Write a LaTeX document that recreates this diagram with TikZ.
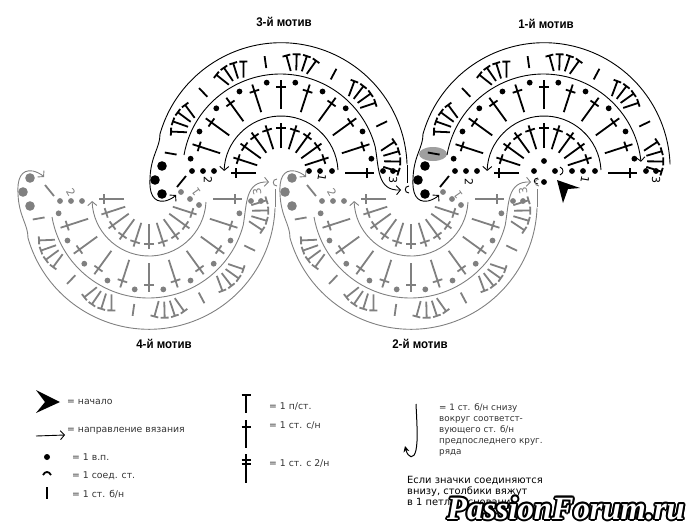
\documentclass[tikz,border=0pt]{standalone}
\usepackage{fontspec}
\setmainfont{DejaVu Sans}
\newfontfamily\titlefont[FakeStretch=0.92]{Liberation Sans Bold}
\newfontfamily\markfont{Liberation Serif Bold Italic}
\usepackage{tikz}
\usetikzlibrary{arrows.meta}
\definecolor{motifgray}{gray}{0.5}
\definecolor{legendgray}{gray}{0.2}
\tikzset{
	thread/.style={line width=.9pt},
	stitch/.style={line width=1.8pt},
	way/.style={thread,-{Straight Barb[length=4pt,width=9pt]}},
	title/.style={font=\titlefont\fontsize{12.5}{12.5}\selectfont,text=black},
	legend/.style={anchor=west,inner sep=0pt,font=\fontsize{9.3}{11}\selectfont,text=legendgray,align=left},
	number/.style={inner sep=0pt,font=\fontsize{11}{11}\selectfont},
	forum/.style={inner sep=0pt,font=\markfont\fontsize{32.5}{32.5}\selectfont}
}
% everything that the four motifs share
\newcommand{\motifcore}{
	\foreach \a in {18,36,...,180}
		\draw[stitch,rotate=\a] (25,0) -- (50,0) (45,-5) -- (45,5);
	\foreach \a in {0,18,...,162}
		\draw[stitch,rotate=\a] (64,0) -- (93,0) (86,-5) -- (86,5);
	\foreach \a in {9,27,...,171}
		\fill (\a:91.5) circle (2.9);
	\foreach \a in {26,62,...,170}
		\draw[stitch,rotate=\a] (106,0) -- (118,0);
	\foreach \c in {8,44,80,116,152}
		\foreach \i in {-25.5,-8.5,8.5,25.5}
			\draw[stitch,shift={(\c:85)},rotate=\c+\i] (19,0) -- (35,0) (35,-4) -- (35,4);
	\foreach \x in {-89,-78,-67,102,112}
		\fill (\x,2) circle (2.9);
	\foreach \p in {(-119,7),(-126,-7),(-119,-21)}
		\fill \p circle (4.8);
	\draw[stitch] (-104,-14) -- (-95,-3);
	\draw[way] (57,3) arc[start angle=3,end angle=178,radius=57];
	\draw[thread] (-121,39) arc[start angle=164,end angle=2,radius=126];
	\draw[way] (-121,39) .. controls (-121,25) and (-130,18) .. (-131,-5) .. controls (-132,-20) and (-128,-30) .. (-116,-28) .. controls (-112,-27) and (-108,-25) .. (-105,-22);
}
\newcommand{\motiflong}{
	\draw[thread] (126,8) -- (126,-10);
	\draw[way] (-97,18) arc[start angle=170,end angle=15,radius=98] .. controls (98,5) and (96,-18) .. (120,-17);
	\draw[thread] (128,-13) .. controls (123,-13) and (123,-20) .. (128,-20);
}
\begin{document}
\begin{tikzpicture}[x=1pt,y=1pt]
	\useasboundingbox (0,-528) rectangle (690,0);

	% 1st motif
	\fill[gray!75] (433,-154) ellipse [x radius=14,y radius=7];
	\begin{scope}[shift={(544,-173)}]
		\motifcore
		\draw[way] (-97,18) arc[start angle=170,end angle=6,radius=98];
		\foreach \p in {(28,2),(39,2),(51,2),(0,12),(-10,2),(11,2),(0,-9)}
			\fill \p circle (2.9);
		\draw[thread] (16,6) .. controls (20,4) and (20,0) .. (16,-2);
		\draw[thread] (-6,-5) .. controls (-11,-5) and (-11,-11) .. (-6,-11);
	\end{scope}
	\fill (557,-180) -- (580,-188) -- (568,-189) -- (563,-203) -- cycle;
	% 3rd motif
	\begin{scope}[shift={(281,-173)}]
		\motifcore
		\motiflong
		\foreach \p in {(28,2),(39,2),(51,2)}
			\fill \p circle (2.9);
	\end{scope}
	% 2nd motif
	\begin{scope}[shift={(411,-199)},yscale=-1,motifgray]
		\motifcore
		\motiflong
		\foreach \p in {(32,-7),(41,0),(50,6)}
			\fill \p circle (2.9);
	\end{scope}
	% 4th motif
	\begin{scope}[shift={(149,-199)},yscale=-1,motifgray]
		\motifcore
		\motiflong
		\foreach \p in {(32,-7),(41,0),(50,6)}
			\fill \p circle (2.9);
	\end{scope}

	\node[title] (title1) at (546,-24) {1-й мотив};
	\node[title] (title2) at (420,-344) {2-й мотив};
	\node[title] (title3) at (284,-22) {3-й мотив};
	\node[title] (title4) at (164,-344) {4-й мотив};

	\node[number,rotate=-100] (one1) at (585,-180) {1};
	\node[number,rotate=-90] (two1) at (469,-182) {2};
	\node[number,rotate=-90] (three1) at (656,-180) {3};
	\node[number,rotate=-100] (one3) at (322,-178) {1};
	\node[number,rotate=-90] (two3) at (208,-180) {2};
	\node[number,rotate=-90] (three3) at (393,-180) {3};
	\node[number,motifgray,rotate=125] (one2) at (458,-195) {1};
	\node[number,motifgray,rotate=-60] (two2) at (332,-192) {2};
	\node[number,motifgray,rotate=100] (three2) at (523,-191) {3};
	\node[number,motifgray,rotate=125] (one4) at (196,-192) {1};
	\node[number,motifgray,rotate=-60] (two4) at (71,-192) {2};
	\node[number,motifgray,rotate=100] (three4) at (257,-192) {3};

	% legend
	\fill (60,-402) -- (36,-390) -- (45,-402) -- (36,-413) -- cycle;
	\node[legend] (start) at (67,-402) {= начало};
	\coordinate (wayfrom) at (36,-436);
	\coordinate (wayto) at (65,-435);
	\draw[way] (wayfrom) -- (wayto);
	\node[legend] (direction) at (67,-431) {= направление вязания};
	\fill (47,-457) circle (3);
	\node[legend] (chain) at (72,-457) {= 1 в.п.};
	\draw[stitch] (43,-475) .. controls (45,-471) and (49,-471) .. (51,-475);
	\node[legend] (slip) at (72,-476) {= 1 соед. ст.};
	\draw[stitch] (47,-487) -- (47,-499);
	\node[legend] (single) at (72,-494) {= 1 ст. б/н};
	\draw[stitch] (246,-395) -- (246,-413) (241.5,-395) -- (250.5,-395);
	\node[legend] (half) at (269,-407) {= 1 п/ст.};
	\draw[stitch] (246,-420) -- (246,-448) (241.5,-427) -- (250.5,-427);
	\node[legend] (treble) at (269,-426) {= 1 ст. с/н};
	\draw[stitch] (246,-454) -- (246,-483) (241.5,-460) -- (250.5,-460) (241.5,-464) -- (250.5,-464);
	\node[legend] (double) at (269,-463) {= 1 ст. с 2/н};
	\draw[thread,line width=1pt,-{Stealth[length=6pt,width=6pt]}] (416,-404) .. controls (417,-425) and (418,-440) .. (416,-450) .. controls (414,-460) and (408,-458) .. (405,-446);
	\node[legend,anchor=north west,font=\fontsize{8.8}{11}\selectfont] (round) at (439,-403) {= 1 ст. б/н снизу\\вокруг соответст-\\вующего ст. б/н\\предпоследнего круг.\\ряда};
	\node[legend,anchor=north west,text=black,font=\fontsize{9.9}{11}\selectfont] (note) at (407,-476) {Если значки соединяются\\внизу, столбики вяжут\\в 1 петлю основания};

	% watermark
	\foreach \a in {0,30,...,330}
		\node[forum] at ([shift={(\a:2)}]566,-508) {PassionForum.ru};
	\node[forum,text=white] (passion) at (566,-508) {PassionForum.ru};
\end{tikzpicture}
\end{document}
